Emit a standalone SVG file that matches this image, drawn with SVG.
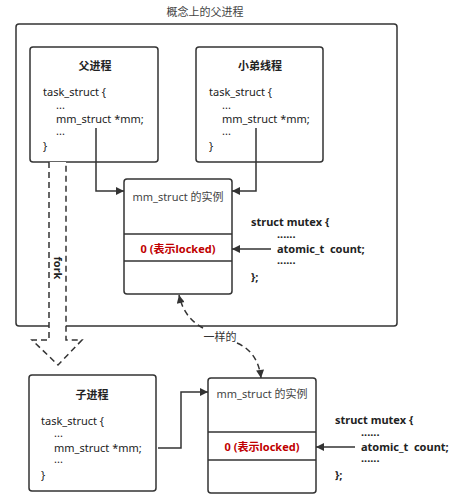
<svg xmlns="http://www.w3.org/2000/svg" width="460" height="500" viewBox="0 0 460 500">
<style>
text{font-family:"Noto Sans","Noto Sans CJK SC",sans-serif;font-size:11px;fill:#222}
.b{font-weight:bold}
.t{text-anchor:middle}
.g{fill:#444}
.red{fill:#c00000;font-weight:bold;text-anchor:middle}
.box{fill:#fff;stroke:#333;stroke-width:1.5}
.ln{fill:none;stroke:#333;stroke-width:1.5}
.dash{fill:none;stroke:#333;stroke-width:1.5;stroke-dasharray:6 4}
</style>
<defs>
<marker id="ah" viewBox="0 0 10 10" refX="10" refY="5" markerWidth="10" markerHeight="8" markerUnits="userSpaceOnUse" orient="auto">
<path d="M0 0L10 5L0 10z" fill="#333"/>
</marker>
</defs>
<rect fill="#fff" width="460" height="500"/>
<text class="t g" x="205" y="16">概念上的父进程</text>
<g id="outer"><rect class="box" x="16" y="24" width="381" height="302" rx="3"/></g>
<g id="parent">
<rect class="box" x="30" y="47" width="128" height="115" rx="3"/>
<text class="b t" x="95" y="70">父进程</text>
<text x="43" y="96">task_struct {</text>
<text x="56" y="109">...</text>
<text x="56" y="123">mm_struct *mm;</text>
<text x="56" y="135">...</text>
<text x="43" y="150">}</text>
</g>
<g id="thread">
<rect class="box" x="196" y="47" width="127" height="115" rx="3"/>
<text class="b t" x="260" y="70">小弟线程</text>
<text x="209" y="96">task_struct {</text>
<text x="222" y="109">...</text>
<text x="222" y="123">mm_struct *mm;</text>
<text x="222" y="135">...</text>
<text x="209" y="150">}</text>
</g>
<g id="mm1">
<rect class="box" x="124" y="179" width="108" height="115" rx="3"/>
<line class="ln" x1="124" y1="234" x2="232" y2="234" stroke-width="1"/>
<line class="ln" x1="124" y1="261" x2="232" y2="261" stroke-width="1"/>
<text class="t g" x="178" y="201">mm_struct 的实例</text>
<text class="red" x="178" y="253">0 (表示locked)</text>
</g>
<g id="mutex1">
<text class="b" x="251" y="226">struct mutex {</text>
<text class="b" x="277" y="238">......</text>
<text class="b" x="277" y="253" xml:space="preserve">atomic_t  count;</text>
<text class="b" x="277" y="264">......</text>
<text class="b" x="251" y="281">};</text>
</g>
<g id="child">
<rect class="box" x="29" y="375" width="127" height="116" rx="3"/>
<text class="b t" x="92" y="399">子进程</text>
<text x="41" y="425">task_struct {</text>
<text x="54" y="437">...</text>
<text x="54" y="452">mm_struct *mm;</text>
<text x="54" y="463">...</text>
<text x="41" y="479">}</text>
</g>
<g id="mm2">
<rect class="box" x="208" y="378" width="108" height="115" rx="3"/>
<line class="ln" x1="208" y1="432" x2="316" y2="432" stroke-width="1"/>
<line class="ln" x1="208" y1="460" x2="316" y2="460" stroke-width="1"/>
<text class="t g" x="262" y="398">mm_struct 的实例</text>
<text class="red" x="262" y="451">0 (表示locked)</text>
</g>
<g id="mutex2">
<text class="b" x="335" y="424">struct mutex {</text>
<text class="b" x="361" y="436">......</text>
<text class="b" x="361" y="451" xml:space="preserve">atomic_t  count;</text>
<text class="b" x="361" y="462">......</text>
<text class="b" x="335" y="479">};</text>
</g>
<g id="connectors">
<path class="ln" d="M96 128V191H124" marker-end="url(#ah)"/>
<path class="ln" d="M256 128V191H232" marker-end="url(#ah)"/>
<path class="ln" d="M271 249H232" marker-end="url(#ah)"/>
<path class="ln" d="M158 448H181V392H208" marker-end="url(#ah)"/>
<path class="ln" d="M355 447H316" marker-end="url(#ah)"/>
<path class="dash" d="M203 328Q184 318 179 295" marker-end="url(#ah)"/>
<path class="dash" d="M237 343Q258 352 261 378" marker-end="url(#ah)"/>
<path class="dash" d="M49 162V340H32L58 365L82 340H66V162" fill="#fff" style="fill:#fff"/>
<text class="b t" x="58" y="268" dominant-baseline="central" transform="rotate(90 58 268)">fork</text>
</g>
<text class="t" x="220" y="341" style="fill:#333">一样的</text>
</svg>
